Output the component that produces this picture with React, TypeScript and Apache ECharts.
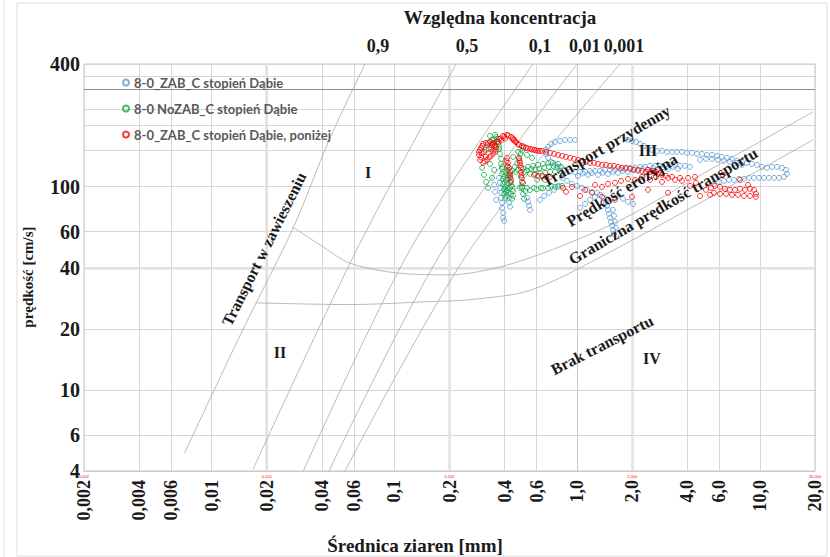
import React, { useEffect, useRef } from "react";
import * as echarts from "echarts";

// ---------- axes ----------
const xTicks = [0.002, 0.004, 0.006, 0.01, 0.02, 0.04, 0.06, 0.1, 0.2, 0.4, 0.6, 1, 2, 4, 6, 10, 20];
const xTickLabels = ["0,002", "0,004", "0,006", "0,01", "0,02", "0,04", "0,06", "0,1", "0,2", "0,4", "0,6", "1,0", "2,0", "4,0", "6,0", "10,0", "20,0"];
const yTicks = [4, 6, 10, 20, 40, 60, 100, 400];
const yTickLabels = ["4", "6", "10", "20", "40", "60", "100", "400"];
const yGridValues = [4, 6, 10, 20, 40, 60, 100, 150, 200, 240, 350, 400];
const xDecadeValues = [0.002, 0.02, 0.2, 2, 20];
const xDecadeLabels = ["0.002", "0.020", "0.200", "2.000", "20.000"];
const xDecadeLines = [0.02, 0.2, 2];
const yDecadeLines = [40];
const yDarkLine = 300;

// top axis: relative concentration
const concentrationLabels = ["0,9", "0,5", "0,1", "0,01", "0,001"];
const concentrationLabelPos = [0.0813, 0.249, 0.626, 1.1, 1.8];

// ---------- background diagram lines [mm, cm/s] ----------
const concLine09 = [[0.0071, 4.9], [0.0148, 19.8], [0.028, 63], [0.044, 170], [0.069, 400]];
const concLine05 = [[0.0168, 4.07], [0.0621, 48.9], [0.217, 400]];
const concLine01 = [[0.0317, 4], [0.1216, 48.9], [0.573, 400]];
const concLine001 = [[0.0438, 4], [0.184, 48.9], [0.997, 400]];
const concLine0001 = [[0.0536, 4], [0.259, 48.9], [1.714, 400]];
const erosionCurve = [[0.0274, 63.6], [0.0391, 51.7], [0.0571, 42.0], [0.1028, 37.6], [0.196, 36.8], [0.456, 42.2], [1.61, 66.3], [5.67, 124.9], [19.5, 232.6]];
const transportLimitCurve = [[0.0176, 26.8], [0.0571, 26.3], [0.156, 27.2], [0.259, 27.8], [0.566, 31.1], [1.71, 50.6], [6.04, 94.2], [19.5, 169.5]];

// ---------- measured series [mm, cm/s] ----------
const seriesNames = ["8-0_ZAB_C stopień Dąbie", "8-0 NoZAB_C stopień Dąbie", "8-0_ZAB_C stopień Dąbie, poniżej"];
const seriesColors = ["#5B9BD5", "#13A84A", "#FF0000"];

const blueData = [
  [0.972, 169.4], [0.913, 169.4], [0.857, 169.4], [0.805, 167.5], [0.756, 165.6], [0.719, 161.9], [0.693, 156.6], [0.675, 151.4], [0.675, 144.6], [0.693, 138.3], [0.719, 132.2], [0.756, 127.8], [0.805, 123.5], [0.857, 120.7], [0.913, 118.0],
  [0.972, 118.0], [1.036, 118.0], [1.103, 118.0], [1.175, 119.3], [1.251, 119.3], [1.332, 119.3], [1.419, 120.7], [1.511, 120.7], [1.609, 120.7], [1.714, 122.1], [1.825, 122.1], [1.944, 123.5], [2.07, 123.5], [2.205, 124.9], [2.348, 124.9], [2.501, 126.3], [2.663, 126.3], [2.837, 126.3], [3.021, 127.8], [3.218, 127.8], [3.427, 127.8], [3.65, 126.3], [3.887, 126.3], [4.14, 124.9],
  [1.009, 112.8], [1.145, 114.1], [1.299, 114.1], [1.474, 115.4], [1.671, 116.7], [1.895, 118.0], [2.15, 119.3], [2.438, 120.7], [2.766, 120.7], [3.137, 122.1], [3.559, 122.1],
  [1.07, 116.0], [1.2, 116.5], [1.38, 117.0], [1.57, 118.0], [1.78, 119.5], [2.02, 121.0], [2.29, 122.5], [2.6, 123.5], [2.95, 124.5], [3.35, 125.0],
  [1.895, 169.4], [1.994, 167.5], [2.096, 165.6], [2.205, 161.9], [2.319, 158.3], [2.438, 154.9], [2.565, 151.4], [2.731, 149.7], [2.909, 149.7], [3.098, 148.0], [3.3, 148.0], [3.514, 148.0], [3.743, 148.0], [3.986, 146.3], [4.246, 146.3], [4.521, 144.6], [4.816, 144.6], [5.129, 143.0], [5.462, 143.0], [5.817, 141.4], [6.195, 139.8], [6.598, 138.3], [7.027, 136.7], [7.483, 133.7], [7.97, 132.2], [8.488, 130.7], [9.041, 129.2], [9.628, 127.8], [10.26, 124.9], [10.92, 123.5], [11.63, 124.9], [12.39, 124.9], [13.2, 123.5], [13.87, 120.7], [14.05, 115.4], [13.53, 111.5], [12.71, 110.3], [11.93, 110.3], [11.2, 110.3], [10.52, 110.3], [9.875, 110.3], [9.271, 110.3], [8.705, 110.3], [8.173, 109.0], [7.675, 109.0], [7.206, 107.8], [6.766, 107.8], [6.353, 106.6], [5.965, 105.4], [5.601, 103.0],
  [4.696, 135.2], [5.065, 136.7], [5.462, 136.7], [5.89, 135.2], [6.353, 133.7], [6.852, 132.2], [7.39, 130.7], [7.97, 127.8],
  [1.036, 78.6], [1.103, 82.2], [1.175, 86.0], [1.251, 89.0], [1.332, 91.0], [1.401, 88.0], [1.437, 84.1], [1.455, 80.4], [1.474, 76.8], [1.492, 73.4], [1.511, 70.2], [1.53, 67.1], [1.55, 64.1], [1.569, 61.3], [1.589, 58.6], [1.629, 62.7], [1.609, 67.1], [1.589, 71.8], [1.569, 76.8],
  [1.671, 90.0], [1.78, 87.0], [1.895, 84.1], [2.019, 82.2],
  [0.826, 110.3], [0.879, 106.6], [0.936, 103.1], [0.997, 100.7], [1.062, 98.5], [1.131, 96.3], [1.205, 94.1], [1.283, 93.1],
  [0.626, 86.0], [0.659, 89.9], [0.701, 93.1], [0.747, 96.3], [0.785, 99.6],
  [0.531, 88.0], [0.538, 84.1], [0.545, 80.4], [0.552, 76.8],
  [0.373, 110.3], [0.378, 104.2], [0.378, 98.5], [0.383, 93.1], [0.383, 88.0], [0.388, 83.2], [0.388, 78.6], [0.393, 74.2], [0.393, 70.2], [0.398, 67.8], [0.413, 104.2], [0.418, 98.5], [0.418, 93.1], [0.424, 88.0], [0.424, 83.2], [0.429, 79.5], [0.351, 101.9], [0.355, 94.1], [0.36, 86.0],
];

const greenData = [
  [0.355, 179.3], [0.364, 171.3], [0.369, 161.9], [0.373, 153.1], [0.378, 144.6], [0.383, 136.7], [0.383, 129.2], [0.388, 122.1], [0.388, 115.4], [0.393, 109.0], [0.393, 103.1], [0.398, 97.4], [0.398, 92.0], [0.403, 88.0],
  [0.342, 169.4], [0.325, 160.1], [0.317, 151.4], [0.333, 177.3], [0.351, 158.3],
  [0.418, 120.7], [0.418, 112.8], [0.429, 105.4], [0.429, 98.5], [0.434, 92.0], [0.44, 87.0], [0.408, 107.8], [0.408, 94.1], [0.413, 125.0], [0.424, 116.0], [0.434, 101.0], [0.403, 100.0], [0.413, 96.0], [0.445, 95.0], [0.398, 112.0],
  [0.39, 125.0], [0.395, 118.0], [0.4, 105.0], [0.405, 97.0], [0.41, 90.0], [0.42, 109.0], [0.43, 113.0], [0.436, 108.0], [0.44, 100.0], [0.445, 90.0],
  [0.36, 175.0], [0.37, 166.0], [0.375, 157.0], [0.35, 170.0], [0.345, 164.0], [0.338, 155.0],
  [0.46, 118.0], [0.455, 125.0], [0.47, 130.0], [0.48, 137.0], [0.49, 145.0], [0.5, 150.0],
  [0.515, 118.0], [0.53, 120.0], [0.56, 122.0], [0.59, 121.0], [0.62, 122.0], [0.66, 124.0], [0.7, 125.0], [0.74, 126.0], [0.78, 125.0],
  [0.5, 100.0], [0.52, 95.0], [0.55, 96.0], [0.6, 97.0], [0.65, 98.0], [0.72, 100.0], [0.79, 101.0],
  [0.408, 116.7], [0.44, 119.3], [0.474, 120.7], [0.505, 122.1], [0.538, 124.9], [0.573, 126.3], [0.61, 127.8], [0.65, 129.2], [0.693, 130.7], [0.737, 130.7], [0.785, 129.2], [0.815, 124.9], [0.805, 119.3], [0.756, 118.0], [0.71, 118.0], [0.667, 116.7], [0.626, 116.7], [0.588, 115.4], [0.552, 115.4],
  [0.446, 139.8], [0.474, 148.0], [0.505, 154.9], [0.531, 143.0], [0.566, 138.3],
  [0.492, 111.5], [0.498, 105.4], [0.498, 98.5], [0.505, 92.0], [0.512, 87.0],
  [0.486, 98.5], [0.531, 98.5], [0.581, 98.5], [0.634, 98.5], [0.693, 98.5], [0.756, 99.6], [0.826, 100.7],
  [0.603, 107.8], [0.667, 107.8],
  [0.302, 123.5], [0.309, 114.1], [0.317, 105.4], [0.325, 98.5], [0.342, 110.3], [0.351, 120.7], [0.333, 129.2],
];

const redData = [
  [0.294, 151.4], [0.302, 158.3], [0.317, 163.7], [0.333, 165.6], [0.351, 163.7], [0.36, 156.6], [0.355, 148.0], [0.337, 141.4], [0.321, 135.2], [0.306, 130.7], [0.294, 135.2], [0.29, 143.0], [0.309, 148.0], [0.329, 153.1],
  [0.3, 146.0], [0.34, 160.0], [0.345, 150.0], [0.315, 140.0], [0.383, 168.0], [0.403, 172.0], [0.445, 170.0], [0.462, 165.0],
  [0.298, 155.0], [0.305, 162.0], [0.325, 164.0], [0.343, 162.0], [0.355, 160.0], [0.357, 152.0], [0.347, 145.0], [0.33, 139.0], [0.312, 133.0], [0.298, 139.0], [0.29, 148.0],
  [0.365, 166.0], [0.38, 172.0], [0.4, 176.0], [0.42, 178.0], [0.443, 173.0], [0.458, 167.0], [0.48, 160.0], [0.51, 157.0], [0.537, 154.0], [0.565, 152.0], [0.595, 150.5], [0.625, 149.5],
  [0.373, 171.3], [0.393, 177.3], [0.413, 179.3], [0.434, 175.3], [0.451, 169.4], [0.474, 161.9], [0.498, 158.3], [0.525, 154.9], [0.552, 153.1], [0.581, 151.4], [0.61, 149.7], [0.642, 149.7],
  [0.675, 148.0], [0.71, 146.3], [0.747, 144.6], [0.785, 143.0], [0.826, 141.4], [0.868, 139.8], [0.913, 138.3], [0.96, 136.7], [1.01, 135.2], [1.062, 133.7], [1.117, 132.2], [1.175, 130.7], [1.235, 130.7], [1.299, 129.2], [1.366, 127.8], [1.437, 127.8], [1.511, 126.3], [1.589, 126.3], [1.671, 124.9], [1.758, 123.5], [1.848, 123.5], [1.944, 122.1], [2.044, 120.7], [2.15, 120.7], [2.261, 119.3], [2.378, 118.0], [2.501, 118.0], [2.63, 116.7], [2.766, 115.4], [2.909, 114.1], [3.059, 112.8], [2.438, 120.7], [2.565, 119.3], [2.697, 118.0], [2.837, 116.7], [3.3, 111.5], [3.65, 110.3], [4.037, 110.3], [4.409, 111.5],
  [0.413, 138.3], [0.418, 130.7], [0.424, 123.5], [0.429, 118.0], [0.429, 110.3], [0.434, 105.4], [0.48, 138.3], [0.486, 130.7], [0.492, 123.5], [0.492, 118.0], [0.498, 110.3], [0.505, 104.2],
  [0.41, 134.0], [0.416, 126.0], [0.427, 114.0], [0.483, 134.0], [0.489, 127.0], [0.495, 114.0],
  [0.61, 112.8], [0.642, 112.8], [0.675, 111.5], [0.71, 111.5], [0.581, 114.1],
  [0.836, 98.5], [0.868, 94.1], [0.936, 99.6], [1.036, 89.9], [1.103, 96.3], [1.205, 93.1], [1.251, 101.9], [1.366, 99.6], [1.366, 89.0], [1.473, 103.1], [1.609, 104.2], [1.609, 86.0], [1.736, 106.6], [1.896, 109.0], [1.994, 89.0], [2.07, 107.8], [2.261, 111.5], [2.438, 96.3], [2.501, 107.8], [2.697, 111.5], [2.909, 105.4], [3.137, 93.1], [3.137, 110.3], [3.427, 107.8], [3.743, 106.6], [4.696, 89.9],
  [5.065, 96.3], [5.394, 98.5], [5.672, 100.7], [6.041, 99.6], [6.434, 97.4], [6.852, 96.3], [7.297, 96.3], [7.772, 97.4], [8.277, 96.3], [8.816, 97.4], [9.271, 96.3], [9.508, 92.0], [9.508, 89.0], [8.816, 89.9], [8.173, 89.9], [7.579, 91.0], [7.027, 91.0], [6.516, 92.0], [6.041, 92.0], [5.601, 93.1], [5.326, 91.0], [6.274, 114.1], [7.772, 107.8], [8.597, 101.9], [4.14, 100.7], [4.465, 104.2],
];

const SERIF = "'Liberation Serif', 'DejaVu Serif', serif";
const L = (v: number) => Math.log10(v);
const toLog = (arr: number[][]) => arr.map((p) => [L(p[0]), L(p[1])]);

function labelFor(values: number[], labels: string[]) {
  return (v: number) => {
    const i = values.findIndex((t) => Math.abs(L(t) - v) < 1e-6);
    return i >= 0 ? labels[i] : "";
  };
}

export default function App() {
  const ref = useRef<HTMLDivElement>(null);
  useEffect(() => {
    if (!ref.current) return;
    const chart = echarts.init(ref.current, undefined, { renderer: "svg" });
    const xMin = L(0.002);
    const xMax = L(20);
    const bgLineStyle = { color: "#a9a9a9", width: 0.8 };
    const bgLines = [concLine09, concLine05, concLine01, concLine001, concLine0001, erosionCurve, transportLimitCurve];

    const lineSeries: any[] = bgLines.map((d, i) => ({
      type: "line",
      data: toLog(d),
      showSymbol: false,
      symbol: "none",
      smooth: 0.3,
      silent: true,
      lineStyle: bgLineStyle,
      z: 1,
      ...(i === 0
        ? {
            markLine: {
              silent: true,
              symbol: ["none", "none"],
              label: { show: false },
              z: 0,
              data: [
                ...xDecadeLines.map((v) => ({ xAxis: L(v), lineStyle: { color: "#e2e2e2", width: 2.5, type: "solid" } })),
                ...yDecadeLines.map((v) => ({ yAxis: L(v), lineStyle: { color: "#e2e2e2", width: 2.5, type: "solid" } })),
                { yAxis: L(yDarkLine), lineStyle: { color: "#8c8c8c", width: 1, type: "solid" } },
              ],
            },
          }
        : {}),
    }));

    const scatterSeries = [blueData, greenData, redData].map((d, i) => ({
      type: "scatter",
      name: seriesNames[i],
      data: toLog(d),
      symbol: "circle",
      symbolSize: 5,
      z: 3 + i,
      itemStyle: { color: "rgba(255,255,255,0)", borderColor: seriesColors[i], borderWidth: 1 },
    }));

    const txt = (text: string, x: number, y: number, size: number, rot = 0) => ({
      type: "text",
      x,
      y,
      rotation: rot,
      z: 100,
      style: {
        text,
        fontSize: size,
        fontWeight: "bold",
        fontFamily: SERIF,
        fill: "#1a1a1a",
        textAlign: "center",
        textVerticalAlign: "middle",
        align: "center",
        verticalAlign: "middle",
      },
    });
    const deg = Math.PI / 180;

    const option: any = {
      animation: false,
      backgroundColor: "#ffffff",
      grid: { left: 84, right: 15, top: 64, bottom: 86, show: true, borderColor: "#c9c9c9", borderWidth: 1, containLabel: false },
      legend: {
        data: seriesNames,
        orient: "vertical",
        left: 122,
        top: 76,
        padding: 0,
        itemGap: 13,
        itemWidth: 6,
        itemHeight: 6,
        textStyle: { fontFamily: "Lato", fontWeight: "bold", fontSize: 13, color: "#595959" },
      },
      xAxis: [
        {
          type: "value",
          min: xMin,
          max: xMax,
          position: "bottom",
          axisLine: { show: true, lineStyle: { color: "#c9c9c9" } },
          axisTick: { show: false, customValues: xTicks.map(L) },
          splitLine: { show: true, lineStyle: { color: "#d6d6d6", width: 1 } },
          axisLabel: {
            customValues: xTicks.map(L),
            formatter: labelFor(xTicks, xTickLabels),
            rotate: 90,
            margin: 9,
            fontSize: 18,
            fontWeight: "bold",
            fontFamily: SERIF,
            color: "#1a1a1a",
          },
        },
        {
          type: "value",
          min: xMin,
          max: xMax,
          position: "top",
          axisLine: { show: false },
          axisTick: { show: false },
          splitLine: { show: false },
          axisLabel: {
            customValues: concentrationLabelPos.map(L),
            formatter: labelFor(concentrationLabelPos, concentrationLabels),
            margin: 9,
            fontSize: 18,
            fontWeight: "bold",
            fontFamily: SERIF,
            color: "#1a1a1a",
          },
        },
        {
          type: "value",
          min: xMin,
          max: xMax,
          position: "bottom",
          axisLine: { show: false },
          axisTick: { show: false },
          splitLine: { show: false },
          axisLabel: {
            customValues: xDecadeValues.map(L),
            formatter: labelFor(xDecadeValues, xDecadeLabels),
            margin: 3,
            fontSize: 4,
            color: "#ff0000",
          },
        },
      ],
      yAxis: [
        {
          type: "value",
          min: L(4),
          max: L(400),
          axisLine: { show: true, lineStyle: { color: "#c9c9c9" } },
          axisTick: { show: false, customValues: yGridValues.map(L) },
          splitLine: { show: true, lineStyle: { color: "#d6d6d6", width: 1 } },
          axisLabel: {
            customValues: yTicks.map(L),
            formatter: labelFor(yTicks, yTickLabels),
            margin: 4,
            fontSize: 20,
            fontWeight: "bold",
            fontFamily: SERIF,
            color: "#1a1a1a",
          },
        },
      ],
      series: [...lineSeries, ...scatterSeries],
      graphic: [
        { type: "rect", z: -10, shape: { x: 17, y: 3, width: 810, height: 553 }, style: { fill: "none", stroke: "#dcdcdc", lineWidth: 1 } },
        { type: "line", z: -10, shape: { x1: 4, y1: 0, x2: 4, y2: 557 }, style: { stroke: "#e6e6e6", lineWidth: 1 } },
        txt("Względna koncentracja", 500, 17, 19),
        txt("prędkość [cm/s]", 28, 277, 15, 90 * deg),
        txt("Średnica ziaren [mm]", 415, 545, 19),
        txt("I", 368, 172, 16),
        txt("II", 280, 352, 16),
        txt("III", 648, 150, 16),
        txt("IV", 652, 358, 16),
        txt("Transport w zawieszeniu", 264, 249, 16, 63.4 * deg),
        txt("Transport przydenny", 606, 146, 16, 30.3 * deg),
        txt("Prędkość erozyjna", 622, 190, 16, 31 * deg),
        txt("Graniczna prędkość transportu", 663, 206, 16, 30.3 * deg),
        txt("Brak transportu", 602, 345, 16, 27 * deg),
      ],
    };
    chart.setOption(option);
    return () => chart.dispose();
  }, []);
  return <div ref={ref} style={{ position: "absolute", left: 0, top: 0, width: 830, height: 557 }} />;
}
